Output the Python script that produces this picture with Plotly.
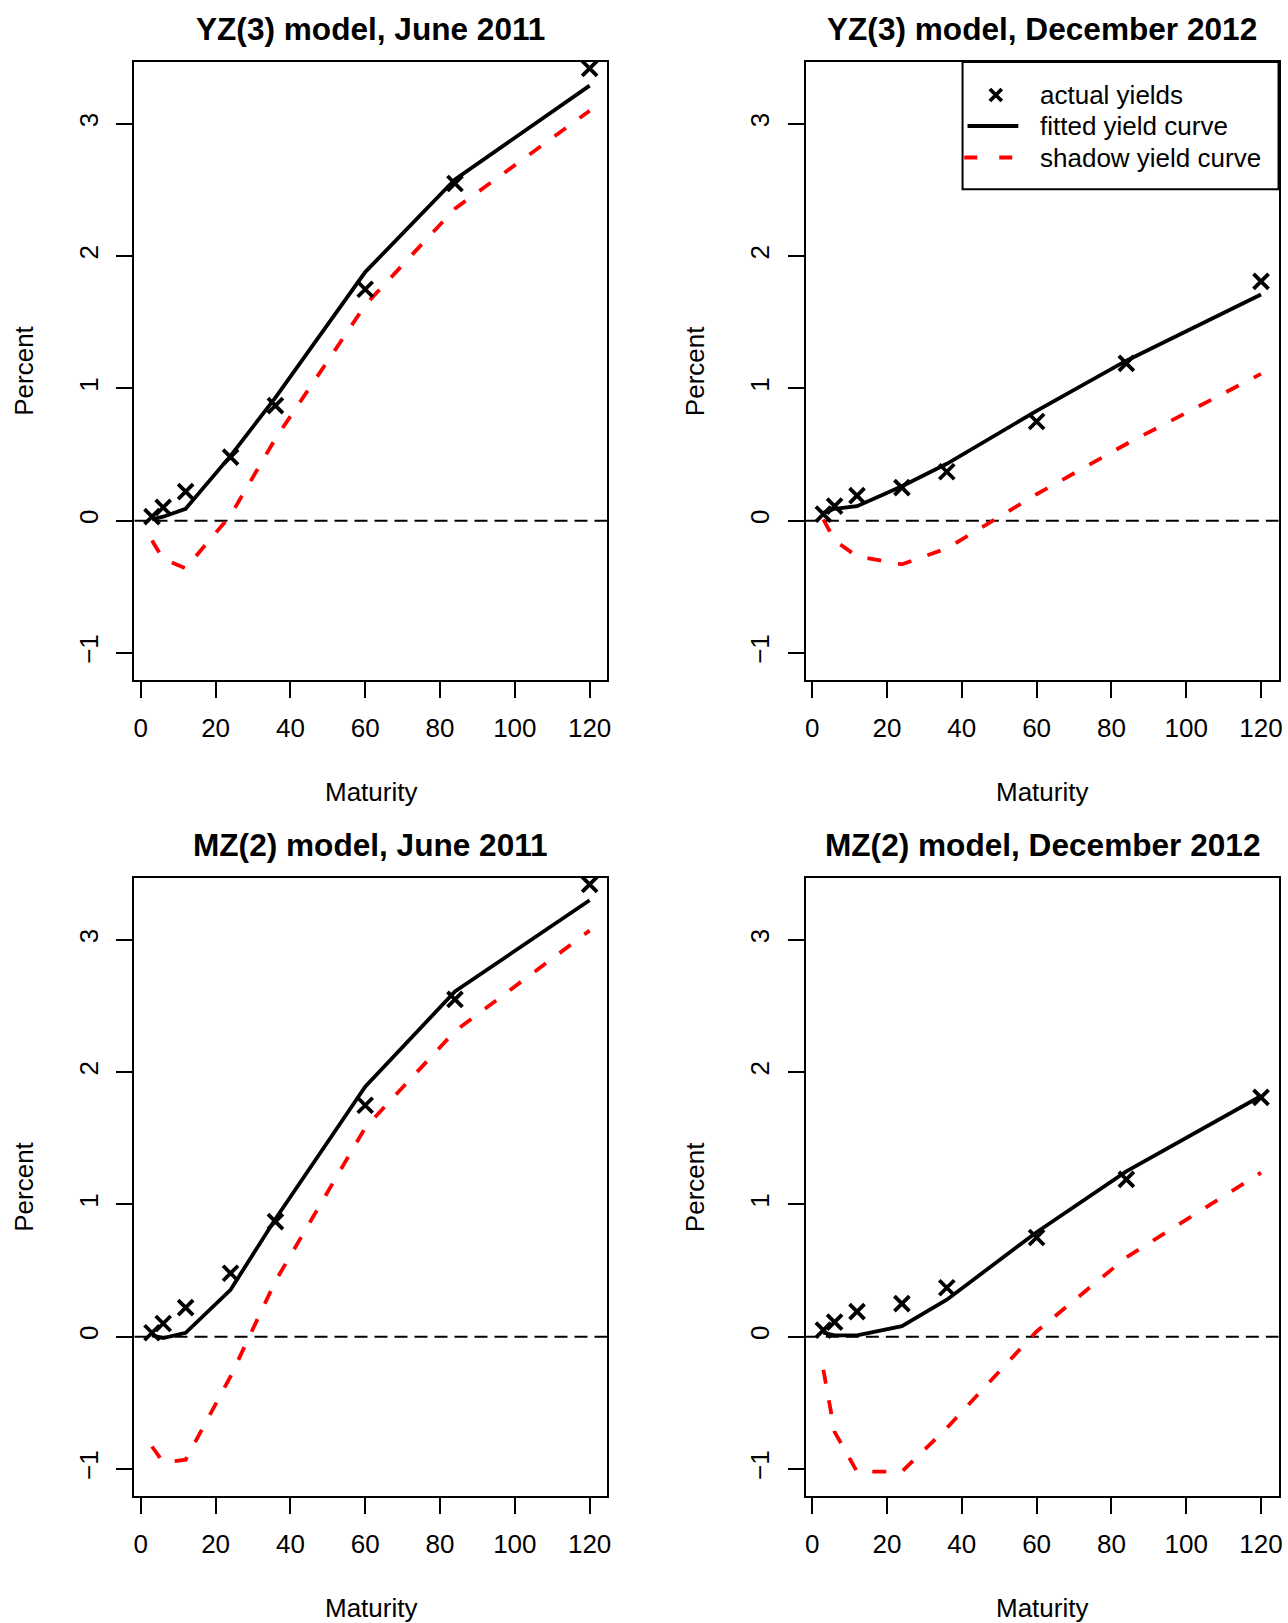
import plotly.graph_objects as go

# ---------------- data ----------------
maturity = [3, 6, 12, 24, 36, 60, 84, 120]

actual_jun2011 = [0.03, 0.10, 0.22, 0.48, 0.87, 1.75, 2.55, 3.42]
actual_dec2012 = [0.05, 0.11, 0.19, 0.25, 0.37, 0.75, 1.19, 1.81]

yz3_jun2011_fitted = [0.01, 0.03, 0.09, 0.49, 0.93, 1.88, 2.58, 3.29]
yz3_jun2011_shadow = [-0.15, -0.29, -0.36, 0.04, 0.62, 1.63, 2.36, 3.10]

yz3_dec2012_fitted = [0.06, 0.09, 0.11, 0.26, 0.43, 0.83, 1.21, 1.71]
yz3_dec2012_shadow = [0.01, -0.15, -0.27, -0.33, -0.21, 0.20, 0.58, 1.11]

mz2_jun2011_fitted = [0.01, -0.01, 0.03, 0.355, 0.89, 1.89, 2.61, 3.30]
mz2_jun2011_shadow = [-0.83, -0.95, -0.93, -0.30, 0.42, 1.58, 2.31, 3.07]

mz2_dec2012_fitted = [0.03, 0.01, 0.01, 0.08, 0.28, 0.79, 1.25, 1.82]
mz2_dec2012_shadow = [-0.25, -0.72, -1.02, -1.02, -0.69, 0.04, 0.60, 1.24]

panel_titles = ["YZ(3) model, June 2011", "YZ(3) model, December 2012",
                "MZ(2) model, June 2011", "MZ(2) model, December 2012"]
x_tickvals = [0, 20, 40, 60, 80, 100, 120]
y_tickvals = [-1, 0, 1, 2, 3]
y_ticktext = ["\u22121", "0", "1", "2", "3"]
legend_labels = ["actual yields", "fitted yield curve", "shadow yield curve"]
x_label = "Maturity"
y_label = "Percent"

panels = [
    (actual_jun2011, yz3_jun2011_fitted, yz3_jun2011_shadow),
    (actual_dec2012, yz3_dec2012_fitted, yz3_dec2012_shadow),
    (actual_jun2011, mz2_jun2011_fitted, mz2_jun2011_shadow),
    (actual_dec2012, mz2_dec2012_fitted, mz2_dec2012_shadow),
]

# ---------------- layout geometry (pixels) ----------------
W, H = 1288, 1623
FONT = "Liberation Sans, Arial, Helvetica, sans-serif"
xpix = [(134.0, 608.5), (808.0, 1282.5)]
ypix = [(62.1, 680.0), (878.0, 1496.1)]
xrange_ = [-1.68, 124.68]
yrange_ = [-1.205, 3.468]


def px(x):
    return x / W


def py(y):
    return 1 - y / H


fig = go.Figure()
layout = dict(
    width=W, height=H,
    margin=dict(l=0, r=0, t=0, b=0),
    paper_bgcolor="white", plot_bgcolor="white",
    showlegend=False,
    font=dict(family=FONT, size=26, color="black"),
)
annotations = []
shapes = []

for i, (actual, fitted, shadow) in enumerate(panels):
    row, col = divmod(i, 2)
    n = "" if i == 0 else str(i + 1)
    xa, ya = "x" + n, "y" + n
    x0, x1 = xpix[col]
    y0, y1 = ypix[row]
    layout["xaxis" + n] = dict(
        domain=[px(x0), px(x1)], anchor=ya, range=xrange_,
        tickmode="array", tickvals=x_tickvals,
        showline=True, mirror=True, linecolor="black", linewidth=2,
        ticks="outside", ticklen=16, tickwidth=2, tickcolor="black",
        showgrid=False, zeroline=False,
        tickfont=dict(family=FONT, size=26, color="black"),
        ticklabelstandoff=8,
    )
    layout["yaxis" + n] = dict(
        domain=[py(y1), py(y0)], anchor=xa, range=yrange_,
        tickmode="array", tickvals=y_tickvals, ticktext=y_ticktext,
        tickangle=-90,
        showline=True, mirror=True, linecolor="black", linewidth=2,
        ticks="outside", ticklen=16, tickwidth=2, tickcolor="black",
        showgrid=False, zeroline=False,
        tickfont=dict(family=FONT, size=26, color="black"),
        ticklabelstandoff=8,
    )
    # zero reference line
    shapes.append(dict(type="line", xref=xa + " domain", yref=ya,
                       x0=0, x1=1, y0=0, y1=0,
                       line=dict(color="black", width=2, dash="13px,7px"),
                       layer="below"))
    fig.add_trace(go.Scatter(x=maturity, y=shadow, xaxis=xa, yaxis=ya,
                             mode="lines", name=legend_labels[2],
                             line=dict(color="#FF0000", width=3.8, dash="14px,17px")))
    fig.add_trace(go.Scatter(x=maturity, y=fitted, xaxis=xa, yaxis=ya,
                             mode="lines", name=legend_labels[1],
                             line=dict(color="black", width=3.8)))
    fig.add_trace(go.Scatter(x=maturity, y=actual, xaxis=xa, yaxis=ya,
                             mode="markers", name=legend_labels[0],
                             marker=dict(symbol="x-thin", size=15, color="black",
                                         line=dict(color="black", width=3.8))))
    cx = (x0 + x1) / 2
    annotations.append(dict(text="<b>" + panel_titles[i] + "</b>", xref="paper", yref="paper",
                            x=px(cx), y=py(y0 - 33.1), xanchor="center", yanchor="middle",
                            showarrow=False, font=dict(family=FONT, size=31.6, color="black")))
    annotations.append(dict(text=x_label, xref="paper", yref="paper",
                            x=px(cx), y=py(y1 + 112), xanchor="center", yanchor="middle",
                            showarrow=False, font=dict(family=FONT, size=26, color="black")))
    annotations.append(dict(text=y_label, xref="paper", yref="paper",
                            x=px(x0 - 111.2), y=py((y0 + y1) / 2), xanchor="center",
                            yanchor="middle", textangle=-90,
                            showarrow=False, font=dict(family=FONT, size=26, color="black")))

# ---------------- legend (top-right panel) ----------------
lx0, lx1, ly0, ly1 = 965.3, 1282.5, 62.1, 189.3
shapes.append(dict(type="rect", xref="paper", yref="paper",
                   x0=px(lx0), x1=px(lx1), y0=py(ly1), y1=py(ly0),
                   line=dict(color="black", width=2), fillcolor="white", layer="above"))
row_y = [95.0, 126.0, 157.5]
mx, ms = 998.7, 6.0
shapes.append(dict(type="path", xref="paper", yref="paper",
                   path=(f"M{px(mx - ms)},{py(row_y[0] - ms)} L{px(mx + ms)},{py(row_y[0] + ms)} "
                         f"M{px(mx - ms)},{py(row_y[0] + ms)} L{px(mx + ms)},{py(row_y[0] - ms)}"),
                   line=dict(color="black", width=3.8), layer="above"))
shapes.append(dict(type="line", xref="paper", yref="paper",
                   x0=px(970.3), x1=px(1021.3), y0=py(row_y[1]), y1=py(row_y[1]),
                   line=dict(color="black", width=3.8), layer="above"))
shapes.append(dict(type="line", xref="paper", yref="paper",
                   x0=px(967.0), x1=px(1021.3), y0=py(row_y[2]), y1=py(row_y[2]),
                   line=dict(color="#FF0000", width=3.8, dash="13px,22px"), layer="above"))
for lbl, ry in zip(legend_labels, row_y):
    annotations.append(dict(text=lbl, xref="paper", yref="paper",
                            x=px(1041.3), y=py(ry), xanchor="left", yanchor="middle",
                            showarrow=False, font=dict(family=FONT, size=26, color="black")))

layout["annotations"] = annotations
layout["shapes"] = shapes
fig.update_layout(**layout)
fig.write_html(
    "out.html",
    config={"displayModeBar": False},
    post_script="document.body.style.margin='0';document.body.style.overflow='hidden';",
)
